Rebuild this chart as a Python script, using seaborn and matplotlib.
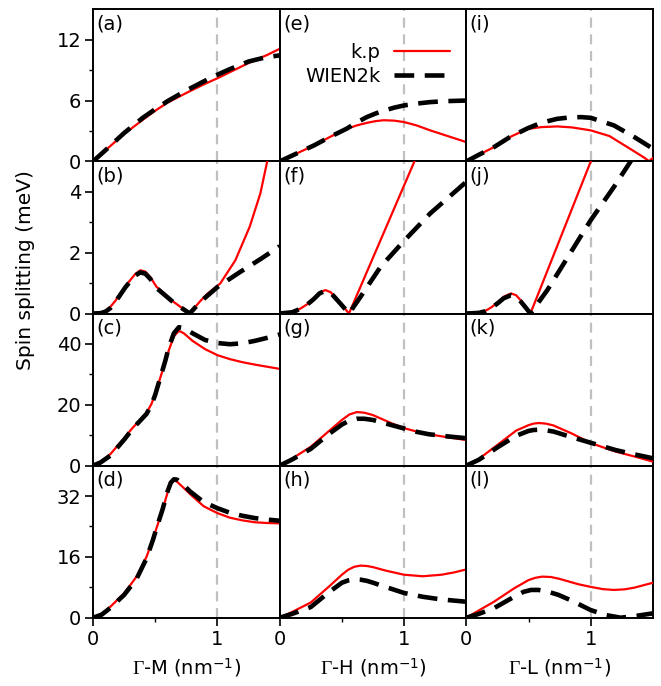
import numpy as np
import pandas as pd
import matplotlib
matplotlib.use("Agg")
import matplotlib.pyplot as plt
from matplotlib.ticker import FixedLocator
import seaborn as sns

# ---------------- data ----------------
# Row 1 : (a) Γ-M, (e) Γ-H, (i) Γ-L   [meV]
a_x = [0, 0.1, 0.25, 0.4, 0.5, 0.6, 0.75, 0.9, 1.0, 1.1, 1.25, 1.4, 1.5]
a_kp = [0, 1.1, 2.7, 4.1, 5.0, 5.8, 6.75, 7.65, 8.2, 8.8, 9.7, 10.5, 11.1]
a_w = [0, 1.1, 2.8, 4.3, 5.15, 5.95, 7.0, 7.95, 8.55, 9.1, 9.85, 10.3, 10.45]

e_x = [0, 0.14, 0.276, 0.41, 0.542, 0.62, 0.7, 0.77, 0.836, 0.92, 1.0, 1.1, 1.21, 1.35, 1.5]
e_kp = [0, 0.8, 1.58, 2.45, 3.22, 3.55, 3.8, 3.97, 4.06, 4.02, 3.88, 3.55, 3.06, 2.5, 1.9]
e_w = [0, 0.8, 1.58, 2.45, 3.25, 3.85, 4.37, 4.72, 5.0, 5.3, 5.52, 5.7, 5.85, 5.95, 6.0]

i_x_kp = [0, 0.1, 0.222, 0.35, 0.49, 0.6, 0.73, 0.85, 1.0, 1.15, 1.294, 1.4, 1.44, 1.468, 1.5]
i_kp = [0, 0.65, 1.41, 2.4, 3.2, 3.38, 3.45, 3.35, 3.06, 2.5, 1.41, 0.6, 0.28, 0.02, 0.35]
i_x_w = [0, 0.1, 0.222, 0.35, 0.49, 0.6, 0.73, 0.82, 0.919, 1.0, 1.186, 1.35, 1.5]
i_w = [0, 0.65, 1.41, 2.4, 3.25, 3.8, 4.2, 4.32, 4.37, 4.3, 3.55, 2.4, 1.25]

# Row 2 : (b), (f), (j)
b_x_kp = [0, 0.06, 0.1, 0.14, 0.18, 0.22, 0.26, 0.30, 0.34, 0.38, 0.42, 0.46, 0.51,
          0.648, 0.777, 0.86, 0.92, 1.023, 1.144, 1.259, 1.345, 1.40, 1.43]
b_kp = [0, 0.02, 0.08, 0.22, 0.42, 0.66, 0.9, 1.1, 1.3, 1.42, 1.38, 1.2, 0.88,
        0.38, 0.0, 0.4, 0.65, 0.99, 1.75, 2.85, 3.95, 5.0, 5.6]
b_x_w = [0, 0.06, 0.1, 0.14, 0.18, 0.22, 0.26, 0.30, 0.34, 0.38, 0.42, 0.46, 0.51,
         0.648, 0.777, 0.862, 1.0, 1.184, 1.35, 1.5]
b_w = [0, 0.01, 0.06, 0.18, 0.38, 0.62, 0.86, 1.06, 1.25, 1.35, 1.31, 1.14, 0.84,
       0.36, 0.0, 0.38, 0.87, 1.37, 1.8, 2.21]

f_x_kp = [0, 0.1, 0.166, 0.22, 0.273, 0.32, 0.367, 0.41, 0.45, 0.5, 0.557, 1.083, 1.13]
f_kp = [0, 0.04, 0.16, 0.3, 0.49, 0.68, 0.77, 0.7, 0.52, 0.28, 0.0, 5.0, 5.45]
f_x_w = [0, 0.1, 0.166, 0.22, 0.273, 0.32, 0.367, 0.41, 0.45, 0.5, 0.557, 0.65, 0.81,
         1.0, 1.21, 1.5]
f_w = [0, 0.04, 0.15, 0.29, 0.47, 0.66, 0.75, 0.68, 0.5, 0.27, 0.0, 0.55, 1.53,
       2.39, 3.29, 4.33]

j_x_kp = [0, 0.1, 0.15, 0.2, 0.25, 0.3, 0.359, 0.4, 0.44, 0.48, 0.515, 1.0, 1.05]
j_kp = [0, 0.02, 0.08, 0.2, 0.36, 0.55, 0.66, 0.6, 0.42, 0.2, 0.0, 5.0, 5.5]
j_x_w = [0, 0.1, 0.15, 0.2, 0.25, 0.3, 0.359, 0.4, 0.44, 0.48, 0.515, 0.651, 1.0,
         1.186, 1.32, 1.4]
j_w = [0, 0.02, 0.07, 0.18, 0.33, 0.5, 0.6, 0.55, 0.38, 0.18, 0.0, 0.77, 3.07,
       4.16, 5.0, 5.5]

# Row 3 : (c), (g), (k)
c_x = [0, 0.06, 0.14, 0.25, 0.32, 0.38, 0.43, 0.47, 0.5, 0.54, 0.58, 0.61, 0.65,
       0.69, 0.73, 0.8, 0.9, 1.0, 1.1, 1.2, 1.3, 1.4, 1.5]
c_kp = [0, 1.3, 3.8, 9.0, 12.5, 15, 17.3, 20.3, 23.5, 28.8, 34, 38, 42.5, 44.3,
        43.5, 41, 38.3, 36.3, 35, 34, 33.2, 32.5, 31.8]
c_w = [0, 1.0, 3.3, 8.5, 12.2, 14.8, 17.0, 20.0, 23.3, 28.8, 34.3, 39, 43.5, 45.5,
       45.2, 43.5, 41.3, 40.3, 39.9, 40.2, 41, 42, 43.1]

g_x = [0, 0.1, 0.25, 0.4, 0.5, 0.56, 0.62, 0.68, 0.75, 0.9, 1.0, 1.1, 1.2, 1.35, 1.5]
g_kp = [0, 2.3, 6.2, 11.5, 15, 16.8, 17.6, 17.4, 16.6, 13.9, 12.3, 11.2, 10.3, 9.3, 8.4]
g_w = [0, 2.0, 5.5, 10.5, 13.5, 14.8, 15.4, 15.4, 15.0, 13.3, 12.2, 11.1, 10.3, 9.6, 9.0]

k_x = [0, 0.1, 0.25, 0.4, 0.5, 0.54, 0.58, 0.64, 0.7, 0.85, 1.0, 1.2, 1.35, 1.5]
k_kp = [0, 2.2, 6.8, 11.5, 13.3, 13.8, 14.0, 13.8, 13.2, 10.5, 7.4, 4.6, 3.0, 1.3]
k_w = [0, 1.9, 6.0, 9.8, 11.4, 11.7, 11.8, 11.6, 11.2, 9.3, 7.5, 5.1, 3.7, 2.4]

# Row 4 : (d), (h), (l)
d_x = [0, 0.07, 0.14, 0.25, 0.35, 0.43, 0.48, 0.515, 0.56, 0.6, 0.625, 0.65, 0.675,
       0.7, 0.74, 0.78, 0.89, 1.0, 1.1, 1.2, 1.3, 1.4, 1.5]
d_kp = [0, 1.0, 2.9, 6.4, 10.8, 16, 20.5, 24, 28.5, 33, 35.2, 36.1, 35.8, 35.0,
        33.8, 32.5, 29.3, 27.5, 26.3, 25.6, 25.1, 24.9, 24.8]
d_w = [0, 0.8, 2.6, 6.0, 10.2, 15.6, 20.3, 24, 28.6, 33.3, 35.5, 36.4, 36.3, 35.6,
       34.5, 33.2, 30.4, 28.8, 27.6, 26.8, 26.2, 25.8, 25.5]

h_x = [0, 0.1, 0.25, 0.4, 0.5, 0.55, 0.6, 0.65, 0.7, 0.75, 0.85, 1.0, 1.15, 1.3, 1.4, 1.5]
h_kp = [0, 1.5, 4.0, 8.3, 11.3, 12.6, 13.4, 13.7, 13.6, 13.3, 12.4, 11.3, 10.9, 11.3, 11.9, 12.7]
h_w = [0, 1.0, 2.8, 6.8, 9.2, 9.8, 10.1, 10.0, 9.7, 9.2, 8.1, 6.5, 5.5, 4.8, 4.5, 4.2]

l_x_kp = [0, 0.1, 0.222, 0.383, 0.5, 0.555, 0.61, 0.68, 0.75, 0.9, 1.0, 1.1, 1.186,
          1.27, 1.35, 1.5]
l_kp = [0, 1.9, 4.2, 7.7, 9.9, 10.5, 10.8, 10.7, 10.2, 8.8, 8.1, 7.5, 7.3, 7.45, 7.9, 9.2]
l_x_w = [0, 0.1, 0.222, 0.4, 0.46, 0.52, 0.58, 0.65, 0.74, 0.838, 1.0, 1.12, 1.24,
         1.35, 1.5]
l_w = [0, 1.0, 2.5, 5.8, 6.8, 7.3, 7.3, 6.9, 6.0, 4.6, 2.0, 0.7, 0.0, 0.4, 1.15]

panel_letters = ["a", "e", "i", "b", "f", "j", "c", "g", "k", "d", "h", "l"]
row_ylims = [15, 5, 50, 40]
row_major = [[0, 6, 12], [0, 2, 4], [0, 20, 40], [0, 16, 32]]
row_minor = [[3, 9], [1, 3], [10, 30], [8, 24]]
col_xlabels = [r"$\Gamma$-M (nm$^{\mathsf{-1}}$)", r"$\Gamma$-H (nm$^{\mathsf{-1}}$)",
               r"$\Gamma$-L (nm$^{\mathsf{-1}}$)"]
x_major = [0, 1]
x_minor = [0.5]
series_names = ["k.p", "WIEN2k"]

panels = {
    "a": (a_x, a_kp, a_x, a_w), "e": (e_x, e_kp, e_x, e_w), "i": (i_x_kp, i_kp, i_x_w, i_w),
    "b": (b_x_kp, b_kp, b_x_w, b_w), "f": (f_x_kp, f_kp, f_x_w, f_w), "j": (j_x_kp, j_kp, j_x_w, j_w),
    "c": (c_x, c_kp, c_x, c_w), "g": (g_x, g_kp, g_x, g_w), "k": (k_x, k_kp, k_x, k_w),
    "d": (d_x, d_kp, d_x, d_w), "h": (h_x, h_kp, h_x, h_w), "l": (l_x_kp, l_kp, l_x_w, l_w),
}

# ---------------- style ----------------
sns.set_style("ticks")
plt.rcParams["font.family"] = ["DejaVu Sans"]
plt.rcParams["mathtext.fontset"] = "custom"
plt.rcParams["mathtext.rm"] = "Liberation Serif"
plt.rcParams["mathtext.it"] = "Liberation Serif:italic"
plt.rcParams["mathtext.sf"] = "DejaVu Sans"
plt.rcParams["axes.linewidth"] = 1.4
plt.rcParams["axes.edgecolor"] = "black"
for key in ["text.color", "axes.labelcolor", "xtick.color", "ytick.color"]:
    plt.rcParams[key] = "black"

FS = 14
fig = plt.figure(figsize=(6.61, 6.86), dpi=100)
gs = fig.add_gridspec(4, 3, left=93 / 661, right=653 / 661, top=1 - 9.3 / 686,
                      bottom=1 - 617.7 / 686, wspace=0, hspace=0)

legend_handles = []
for r in range(4):
    for c in range(3):
        ax = fig.add_subplot(gs[r, c])
        letter = panel_letters[r * 3 + c]
        xk, yk, xw, yw = panels[letter]
        ax.axvline(1.0, color="#c0c0c0", lw=1.6, ls=(0, (4.5, 3.0)), zorder=1)
        df_kp = pd.DataFrame({"k": xk, "s": yk})
        df_w = pd.DataFrame({"k": xw, "s": yw})
        sns.lineplot(data=df_kp, x="k", y="s", ax=ax, color="#ff0000", lw=1.6,
                     errorbar=None, sort=False, zorder=3)
        l1 = ax.lines[-1]
        sns.lineplot(data=df_w, x="k", y="s", ax=ax, color="black", lw=3.3,
                     errorbar=None, sort=False, zorder=4)
        l2 = ax.lines[-1]
        l2.set_linestyle((0, (4.3, 2.3)))
        if letter == "e":
            legend_handles = [l1, l2]
            ax_e = ax
        ax.set_xlim(0, 1.5)
        ax.set_ylim(0, row_ylims[r])
        ax.set_xlabel("")
        ax.set_ylabel("")
        ax.text(0.018, 0.965, f"({letter})", transform=ax.transAxes, fontsize=FS,
                ha="left", va="top")
        ax.xaxis.set_major_locator(FixedLocator(x_major))
        ax.xaxis.set_minor_locator(FixedLocator(x_minor))
        ax.yaxis.set_major_locator(FixedLocator(row_major[r]))
        ax.yaxis.set_minor_locator(FixedLocator(row_minor[r]))
        ax.tick_params(axis="both", which="major", direction="out", length=5.5,
                       width=1.2, labelsize=FS, pad=3)
        ax.tick_params(axis="both", which="minor", direction="out", length=3,
                       width=1.0)
        if c != 0:
            ax.tick_params(axis="y", which="both", left=False, labelleft=False)
        if r != 3:
            ax.tick_params(axis="x", which="both", bottom=False, labelbottom=False)
        else:
            ax.set_xlabel(col_xlabels[c], fontsize=FS, labelpad=6)
        for sp in ax.spines.values():
            sp.set_visible(True)
            sp.set_linewidth(1.4)

ax_e.legend(legend_handles, series_names, loc="upper right",
            bbox_to_anchor=(0.915, 0.78), frameon=False, markerfirst=False,
            fontsize=FS, handlelength=2.9, handletextpad=0.7, labelspacing=0.25,
            borderaxespad=0, borderpad=0)

fig.text(26 / 661, 1 - 270 / 686, "Spin splitting (meV)", rotation=90,
         ha="center", va="center", fontsize=14.5)

fig.savefig("out.png", dpi=100)
